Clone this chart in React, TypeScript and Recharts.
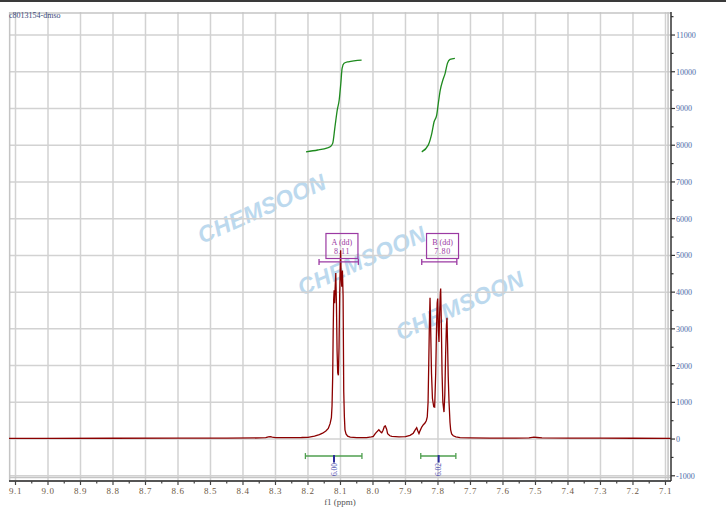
import {
  ComposedChart,
  Line,
  XAxis,
  YAxis,
  CartesianGrid,
  ReferenceLine,
  ReferenceDot,
} from "recharts";

// 1H spectrum, f1 in ppm
const spectrumPpm = [
  9.12, 9.0, 8.8, 8.6, 8.45, 8.35, 8.33, 8.322, 8.316, 8.31, 8.3, 8.26, 8.22, 8.2, 8.18,
  8.165, 8.155, 8.145, 8.1375, 8.132, 8.128, 8.126, 8.124, 8.1225, 8.121, 8.1195, 8.118,
  8.1165, 8.1145, 8.1125, 8.1105, 8.1085, 8.1065, 8.1045, 8.1025, 8.1005, 8.0995, 8.098,
  8.096, 8.094, 8.092, 8.09, 8.088, 8.0862, 8.083, 8.078, 8.07, 8.05, 8.02, 8.005, 7.999,
  7.993, 7.989, 7.982, 7.977, 7.973, 7.969, 7.965, 7.962, 7.958, 7.955, 7.948, 7.942,
  7.92, 7.9, 7.886, 7.876, 7.871, 7.8655, 7.862, 7.8585, 7.855, 7.85, 7.845, 7.84, 7.836,
  7.833, 7.8305, 7.8285, 7.8265, 7.8245, 7.8225, 7.82, 7.817, 7.813, 7.8102, 7.807,
  7.8045, 7.8025, 7.8009, 7.799, 7.7969, 7.795, 7.793, 7.7917, 7.79, 7.7875, 7.785,
  7.7815, 7.779, 7.7765, 7.774, 7.7723, 7.7705, 7.7685, 7.766, 7.763, 7.761, 7.758,
  7.753, 7.745, 7.732, 7.7, 7.64, 7.56, 7.52, 7.505, 7.495, 7.48, 7.4, 7.3, 7.2, 7.08,
];
const spectrumIntensity = [
  20, 20, 22, 24, 26, 30, 38, 60, 66, 52, 40, 38, 42, 48, 80,
  120, 160, 220, 290, 420, 580, 900, 1700, 2900, 3800, 4050, 3700,
  4100, 4520, 3700, 2400, 1800, 1735, 2500, 3900, 4800, 5140, 4400,
  4150, 4590, 3900, 1300, 600, 250, 140, 80, 55, 40, 40, 60, 73,
  150, 190, 255, 200, 170, 240, 340, 355, 270, 147, 90, 73,
  60, 65, 100, 160, 237, 310, 220, 150, 230, 327, 390, 436, 500,
  600, 1000, 2000, 3100, 3850, 3000, 1800, 1100, 880, 870, 1800,
  3000, 3700, 3825, 3000, 2640, 3400, 3950, 4100, 3300, 1800, 1000,
  735, 1200, 2300, 3100, 3300, 2600, 1700, 1000, 450, 250, 140,
  90, 60, 40, 32, 28, 26, 32, 50, 42, 30, 26, 24, 22, 20,
];

// integral curves (green)
const integralAPpm = [8.206, 8.17, 8.14, 8.132, 8.124, 8.117, 8.11, 8.104, 8.099, 8.095, 8.089, 8.076, 8.035];
const integralAValue = [7820, 7870, 7930, 7956, 8050, 8500, 8956, 9230, 9684, 10093, 10229, 10272, 10319];
const integralBPpm = [7.85, 7.83, 7.819, 7.812, 7.804, 7.799, 7.793, 7.785, 7.778, 7.771, 7.763, 7.748];
const integralBValue = [7820, 8003, 8322, 8638, 8820, 9139, 9501, 9774, 9956, 10229, 10337, 10365];

// multiplet labels and integration values
const multipletNames = ["A (dd)", "B (dd)"];
const multipletShifts = ["8.11", "7.80"];
const multipletRanges = [
  [8.166, 8.045],
  [7.85, 7.742],
];
const integralLabels = ["6.00", "6.02"];
const integralRanges = [
  [8.208, 8.034],
  [7.853, 7.745],
];

const xMajorTicks = [9.1, 9.0, 8.9, 8.8, 8.7, 8.6, 8.5, 8.4, 8.3, 8.2, 8.1, 8.0, 7.9, 7.8, 7.7, 7.6, 7.5, 7.4, 7.3, 7.2, 7.1];
const yMajorTicks = [-1000, 0, 1000, 2000, 3000, 4000, 5000, 6000, 7000, 8000, 9000, 10000, 11000];

// layout (not data)
const X_DOMAIN: [number, number] = [7.083, 9.12];
const Y_DOMAIN: [number, number] = [-1142, 11627];
const BOX_Y = 5256;
const BAR_Y = 4823;
const INT_BAR_Y = -463;

const xMinorTicks = xMajorTicks.slice(1).map((t, i) => (t + xMajorTicks[i]) / 2);
const yMinorTicks = yMajorTicks.map((t) => t + 500);
const xAllTicks = [...xMajorTicks, ...xMinorTicks].sort((a, b) => b - a);
const yAllTicks = [...yMajorTicks, ...yMinorTicks].sort((a, b) => a - b);

const spectrum = spectrumPpm.map((ppm, i) => ({ ppm, v: spectrumIntensity[i] }));
const integralA = integralAPpm.map((ppm, i) => ({ ppm, v: integralAValue[i] }));
const integralB = integralBPpm.map((ppm, i) => ({ ppm, v: integralBValue[i] }));

const PURPLE = "#9b3aa3";
const GREEN_BAR = "#4f9f4f";
const SERIF = "'Liberation Serif', 'DejaVu Serif', serif";

function isMajor(v: number) {
  return Math.abs(v * 10 - Math.round(v * 10)) < 1e-6;
}

function XTick({ x, y, payload }: any) {
  const major = isMajor(payload.value);
  return (
    <g>
      <line x1={x} x2={x} y1={y} y2={y + (major ? 4 : 2.5)} stroke="#444" strokeWidth={1.2} />
      {major && (
        <text x={x} y={y + 13} textAnchor="middle" fontSize={9} fontFamily={SERIF} fill="#6e5a46" letterSpacing={0.6}>
          {payload.value.toFixed(1)}
        </text>
      )}
    </g>
  );
}

function YTick({ x, y, payload }: any) {
  const major = payload.value % 1000 === 0;
  return (
    <g>
      <line x1={x} x2={x + (major ? 4 : 2.5)} y1={y} y2={y} stroke="#333" strokeWidth={1.2} />
      {major && (
        <text x={x + 5} y={y + 3} textAnchor="start" fontSize={8} fontFamily={SERIF} fill="#4a6aa8">
          {payload.value}
        </text>
      )}
    </g>
  );
}

function MultipletBox({ cx, cy, name, shift }: any) {
  return (
    <g>
      <rect x={cx - 16} y={cy - 12.5} width={32} height={25} fill="white" fillOpacity={0} stroke={PURPLE} strokeWidth={1.2} />
      <text x={cx} y={cy - 1.5} textAnchor="middle" fontSize={8} fontFamily={SERIF} fill={PURPLE}>
        {name}
      </text>
      <text x={cx} y={cy + 7.5} textAnchor="middle" fontSize={8} fontFamily={SERIF} fill={PURPLE} letterSpacing={0.6}>
        {shift}
      </text>
    </g>
  );
}

function EndTick({ cx, cy, color }: any) {
  return <line x1={cx} x2={cx} y1={cy - 3} y2={cy + 3} stroke={color} strokeWidth={1.3} />;
}

function IntegralLabel({ cx, cy, text }: any) {
  return (
    <g>
      <line x1={cx} x2={cx} y1={cy - 1} y2={cy + 6.5} stroke="#2a2a9a" strokeWidth={2} />
      <text
        transform={`translate(${cx + 2.6}, ${cy + 13.5}) rotate(-90)`}
        textAnchor="middle"
        fontSize={7.5}
        fontFamily={SERIF}
        fill="#4a4ab0"
      >
        {text}
      </text>
    </g>
  );
}

const watermarks = [
  { left: 262, top: 209 },
  { left: 362, top: 261 },
  { left: 460, top: 306 },
];

export default function App() {
  return (
    <div style={{ position: "fixed", left: 0, top: 0, width: 726, height: 516, background: "#fff", overflow: "hidden" }}>
      <div style={{ position: "absolute", left: 0, top: 0, width: 726, height: 2, background: "#3a3a3a" }} />
      {watermarks.map((w, i) => (
        <div
          key={i}
          style={{
            position: "absolute",
            left: w.left,
            top: w.top,
            transform: "translate(-50%, -50%) rotate(-24deg)",
            fontFamily: "'Liberation Sans', Arial, sans-serif",
            fontWeight: 700,
            fontStyle: "italic",
            fontSize: 23,
            letterSpacing: 0.3,
            color: "#bcd9ee",
            whiteSpace: "nowrap",
          }}
        >
          CHEMSOON
        </div>
      ))}
      <div style={{ position: "absolute", left: 0, top: 0 }}>
        <ComposedChart width={726} height={516} margin={{ top: 12, left: 9, right: 0, bottom: 0 }}>
          <CartesianGrid
            stroke="#d2d2d2"
            strokeWidth={1.5}
            verticalValues={xMajorTicks}
            horizontalValues={yMajorTicks}
          />
          <XAxis
            type="number"
            dataKey="ppm"
            domain={X_DOMAIN}
            reversed
            allowDataOverflow
            ticks={xAllTicks}
            interval={0}
            tickSize={0}
            tickMargin={0}
            tickLine={false}
            tick={<XTick />}
            axisLine={{ stroke: "#555", strokeWidth: 2 }}
            height={35}
            label={{ value: "f1 (ppm)", position: "insideBottom", offset: 11, fontSize: 9, fill: "#555", fontFamily: SERIF }}
          />
          <YAxis
            orientation="right"
            type="number"
            domain={Y_DOMAIN}
            allowDataOverflow
            ticks={yAllTicks}
            interval={0}
            tickSize={0}
            tickMargin={0}
            tickLine={false}
            tick={<YTick />}
            axisLine={{ stroke: "#333", strokeWidth: 1.5 }}
            width={55}
          />

          {/* plot frame */}
          <ReferenceLine x={9.118} stroke="#c4c4c4" strokeWidth={1.5} />
          <ReferenceLine x={7.092} stroke="#c4c4c4" strokeWidth={1.5} />
          <ReferenceLine y={11600} stroke="#c4c4c4" strokeWidth={1.5} />
          <ReferenceLine y={-1045} stroke="#c4c4c4" strokeWidth={1.5} />

          <Line data={integralA} dataKey="v" type="monotone" dot={false} stroke="#1e8a1e" strokeWidth={1.3} isAnimationActive={false} />
          <Line data={integralB} dataKey="v" type="monotone" dot={false} stroke="#1e8a1e" strokeWidth={1.3} isAnimationActive={false} />
          <Line data={spectrum} dataKey="v" type="linear" dot={false} stroke="#8b0000" strokeWidth={1.3} isAnimationActive={false} />

          {multipletRanges.map((r, i) => (
            <ReferenceLine
              key={"mb" + i}
              segment={[
                { x: r[0], y: BAR_Y },
                { x: r[1], y: BAR_Y },
              ]}
              stroke={PURPLE}
              strokeWidth={1.3}
            />
          ))}
          {multipletRanges.flatMap((r, i) =>
            r.map((x, j) => (
              <ReferenceDot key={"mt" + i + j} x={x} y={BAR_Y} r={0} shape={(p: any) => <EndTick {...p} color={PURPLE} />} />
            )),
          )}
          {multipletRanges.map((r, i) => (
            <ReferenceDot
              key={"box" + i}
              x={(r[0] + r[1]) / 2 - 0.01}
              y={BOX_Y}
              r={0}
              shape={(p: any) => <MultipletBox {...p} name={multipletNames[i]} shift={multipletShifts[i]} />}
            />
          ))}

          {integralRanges.map((r, i) => (
            <ReferenceLine
              key={"ib" + i}
              segment={[
                { x: r[0], y: INT_BAR_Y },
                { x: r[1], y: INT_BAR_Y },
              ]}
              stroke={GREEN_BAR}
              strokeWidth={1.5}
            />
          ))}
          {integralRanges.flatMap((r, i) =>
            r.map((x, j) => (
              <ReferenceDot key={"it" + i + j} x={x} y={INT_BAR_Y} r={0} shape={(p: any) => <EndTick {...p} color={GREEN_BAR} />} />
            )),
          )}
          {integralRanges.map((r, i) => (
            <ReferenceDot
              key={"il" + i}
              x={(r[0] + r[1]) / 2 - 0.001}
              y={INT_BAR_Y}
              r={0}
              shape={(p: any) => <IntegralLabel {...p} text={integralLabels[i]} />}
            />
          ))}
        </ComposedChart>
      </div>
      <div
        style={{
          position: "absolute",
          left: 9,
          top: 11,
          fontFamily: SERIF,
          fontSize: 8,
          color: "#3a4a7a",
          whiteSpace: "nowrap",
        }}
      >
        c8013154-dmso
      </div>
    </div>
  );
}
